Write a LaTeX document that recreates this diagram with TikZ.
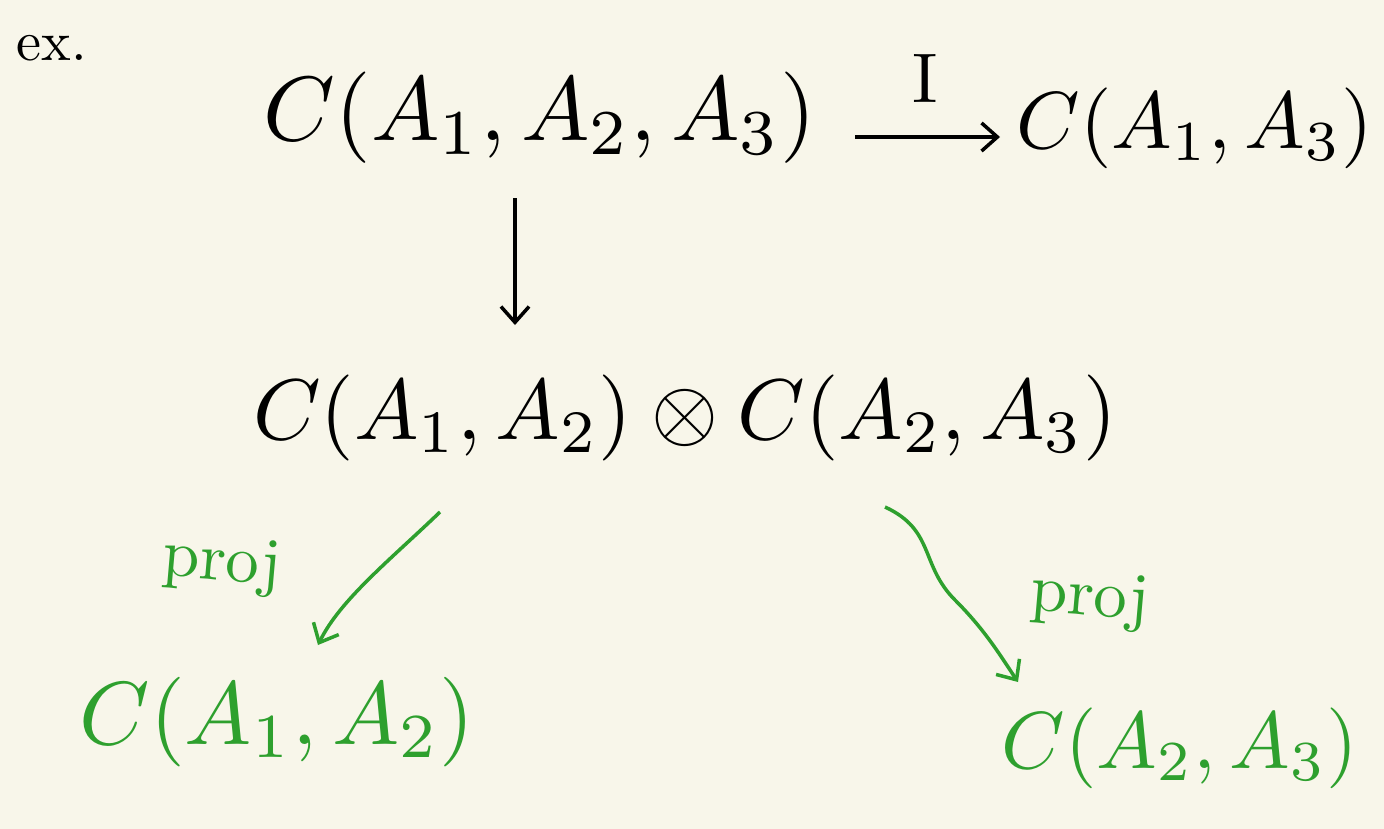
\documentclass[tikz,border=0pt]{standalone}
\usetikzlibrary{arrows.meta}
\definecolor{bg}{HTML}{F8F6EA}
\definecolor{hgreen}{HTML}{2EA02E}
\tikzset{
  big/.style={inner sep=0pt, scale=5.2},
  gbig/.style={inner sep=0pt, text=hgreen},
  lab/.style={inner sep=0pt, scale=3.2},
  plab/.style={inner sep=0pt, scale=3.8, text=hgreen, rotate=-5},
  blk/.style={line width=2pt, -{Straight Barb[length=9pt,width=16pt]}},
  grn/.style={line width=2pt, hgreen, -{Straight Barb[length=9pt,width=16pt]}},
}
\begin{document}
\begin{tikzpicture}[x=0.02cm,y=-0.02cm]
\fill[bg] (0,0) rectangle (1384,829);
\useasboundingbox (0,0) rectangle (1384,829);
\node[lab] (ex) at (52,48) {ex.};
\node[big] (t1) at (540,118) {$C(A_1, A_2, A_3)$};
\node[inner sep=0pt, scale=4.6] (t2) at (1195,128) {$C(A_1, A_3)$};
\node[inner sep=0pt, scale=4.9] (m) at (685,418) {$C(A_1, A_2)\otimes C(A_2, A_3)$};
\node[gbig, scale=5.1] (b1) at (277,722) {$C(A_1, A_2)$};
\node[gbig, scale=4.6] (b2) at (1180,748) {$C(A_2, A_3)$};
\coordinate (a1) at (855,137);
\coordinate (a2) at (1000,137);
\draw[blk] (a1) -- (a2);
\node[scale=4, inner sep=0pt] (I) at (925,78) {I};
\coordinate (d1) at (515,198);
\coordinate (d2) at (515,325);
\draw[blk] (d1) -- (d2);
\coordinate (g1) at (440,512);
\coordinate (g2) at (318,645);
\draw[grn] (g1) .. controls (390,560) and (340,600) .. (g2);
\node[plab] (p1) at (222,565) {proj};
\coordinate (h1) at (885,507);
\coordinate (h2) at (1018,682);
\draw[grn] (h1) .. controls (935,530) and (920,565) .. (955,600) .. controls (985,630) and (1000,655) .. (h2);
\node[plab] (p2) at (1090,600) {proj};
\end{tikzpicture}
\end{document}
